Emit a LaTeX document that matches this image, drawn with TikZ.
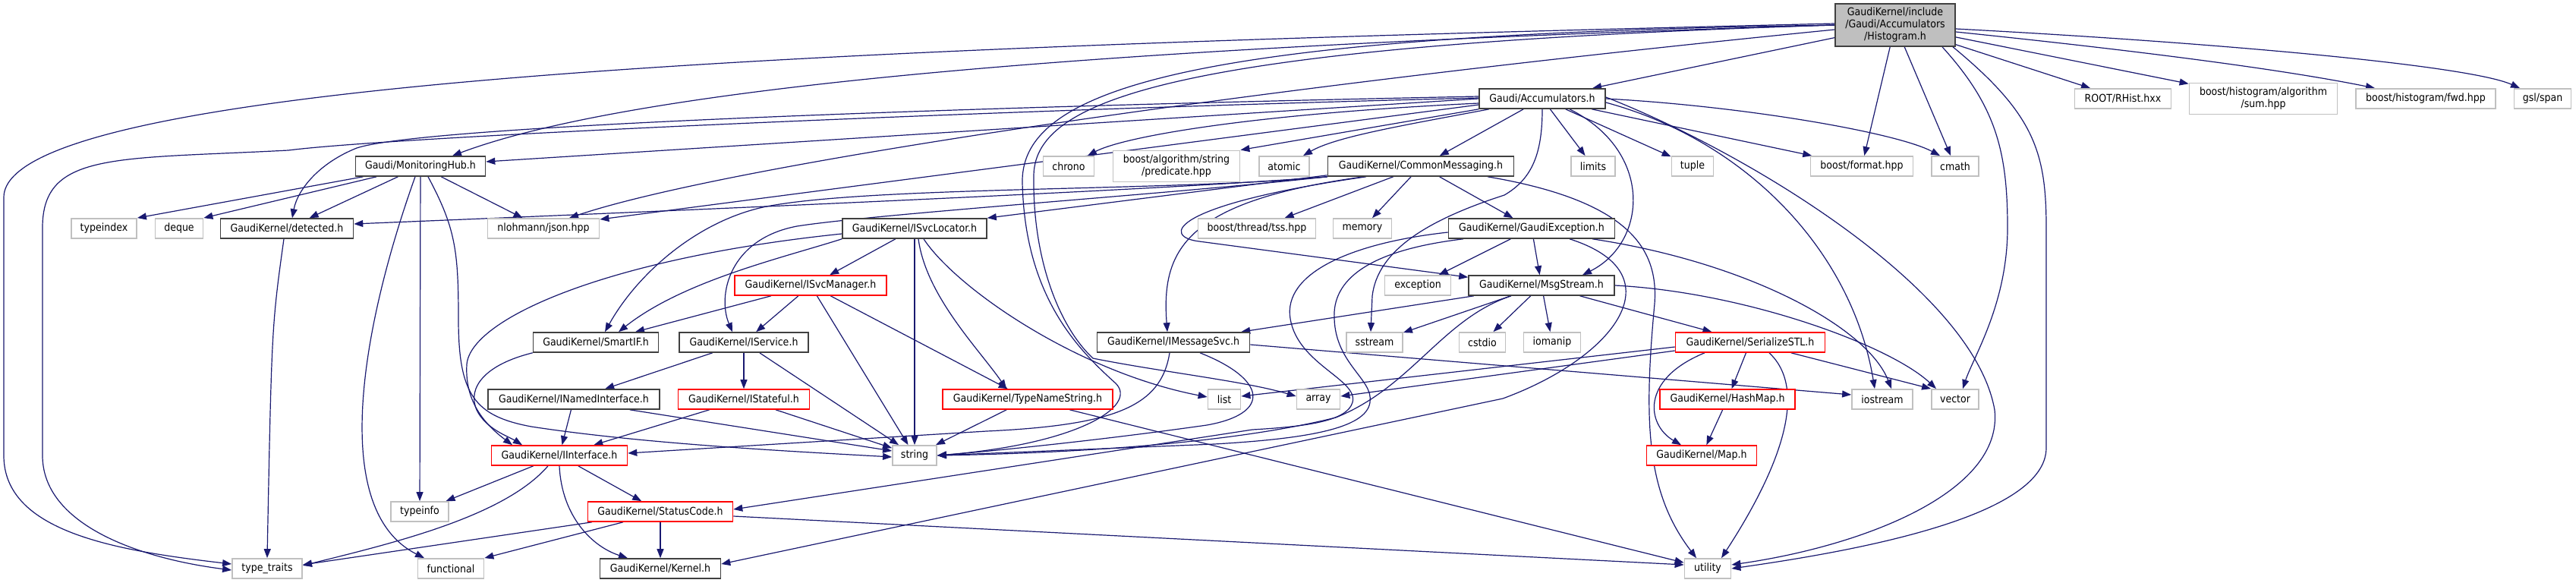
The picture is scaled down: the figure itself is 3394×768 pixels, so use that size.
\documentclass[tikz,border=0pt]{standalone}
\usepackage{fontspec}
\newfontfamily\doxfont{DejaVu Sans Condensed}
\usetikzlibrary{arrows.meta,backgrounds}
\definecolor{edgeblue}{HTML}{191970}
\definecolor{gborder}{HTML}{C0C0C0}
\definecolor{dborder}{HTML}{404040}
\definecolor{topfill}{HTML}{BFBFBF}
\begin{document}
\begin{tikzpicture}[x=1pt,y=-1pt,
  nbase/.style={rectangle, inner sep=0pt, minimum height=26pt, fill=white, font=\doxfont\fontsize{14pt}{16pt}\selectfont, align=center},
  hdr/.style={nbase, draw=dborder, line width=1.6pt},
  sys/.style={nbase, draw=gborder, line width=1.8pt},
  trunc/.style={nbase, draw=red, line width=1.6pt},
  topn/.style={nbase, draw=dborder, fill=topfill, line width=1.6pt},
  dep/.style={draw=edgeblue, line width=1.2pt, -{Triangle[length=12pt,width=9pt]}},
]
\useasboundingbox (0,0) rectangle (3394,768);
% ---------- nodes ----------
\node[topn, minimum width=158pt, minimum height=56pt] (H) at (2497,33) {GaudiKernel/include\\/Gaudi/Accumulators\\/Histogram.h};
\node[hdr, minimum width=166pt] (acc) at (2032,130) {Gaudi/Accumulators.h};
\node[sys, minimum width=127pt] (root) at (2797,130) {ROOT/RHist.hxx};
\node[sys, minimum width=195pt, minimum height=41pt] (sum) at (2982,130) {boost/histogram/algorithm\\/sum.hpp};
\node[sys, minimum width=184pt] (fwd) at (3196,130) {boost/histogram/fwd.hpp};
\node[sys, minimum width=75pt] (gsl) at (3350,130) {gsl/span};
\node[hdr, minimum width=171pt] (mh) at (554,219) {Gaudi/MonitoringHub.h};
\node[sys, minimum width=67pt] (chrono) at (1408,219) {chrono};
\node[sys, minimum width=167pt, minimum height=41pt] (pred) at (1550,219) {boost/algorithm/string\\/predicate.hpp};
\node[sys, minimum width=66pt] (atomic) at (1692,219) {atomic};
\node[hdr, minimum width=245pt] (cm) at (1872,219) {GaudiKernel/CommonMessaging.h};
\node[sys, minimum width=58pt] (limits) at (2099,219) {limits};
\node[sys, minimum width=55pt] (tuple) at (2230,219) {tuple};
\node[sys, minimum width=135pt] (format) at (2453,219) {boost/format.hpp};
\node[sys, minimum width=62pt] (cmath) at (2576,219) {cmath};
\node[sys, minimum width=86pt] (typeindex) at (137,301) {typeindex};
\node[sys, minimum width=63pt] (deque) at (236,301) {deque};
\node[hdr, minimum width=175pt] (detected) at (378,301) {GaudiKernel/detected.h};
\node[sys, minimum width=147pt] (json) at (716,301) {nlohmann/json.hpp};
\node[hdr, minimum width=190pt] (isl) at (1205,301) {GaudiKernel/ISvcLocator.h};
\node[sys, minimum width=155pt] (tss) at (1656,301) {boost/thread/tss.hpp};
\node[sys, minimum width=77pt] (memory) at (1795,301) {memory};
\node[hdr, minimum width=219pt] (ge) at (2018,301) {GaudiKernel/GaudiException.h};
\node[trunc, minimum width=200pt] (ism) at (1068,376) {GaudiKernel/ISvcManager.h};
\node[sys, minimum width=87pt] (exception) at (1868,376) {exception};
\node[hdr, minimum width=192pt] (ms) at (2031,376) {GaudiKernel/MsgStream.h};
\node[hdr, minimum width=165pt] (smartif) at (785,451) {GaudiKernel/SmartIF.h};
\node[hdr, minimum width=170pt] (isvc) at (980,451) {GaudiKernel/IService.h};
\node[hdr, minimum width=201pt] (imsg) at (1546,451) {GaudiKernel/IMessageSvc.h};
\node[sys, minimum width=74pt] (sstream) at (1811,451) {sstream};
\node[sys, minimum width=61pt] (cstdio) at (1953,451) {cstdio};
\node[sys, minimum width=75pt] (iomanip) at (2045,451) {iomanip};
\node[trunc, minimum width=197pt] (sstl) at (2306,451) {GaudiKernel/SerializeSTL.h};
\node[hdr, minimum width=226pt] (ini) at (756,526) {GaudiKernel/INamedInterface.h};
\node[trunc, minimum width=173pt] (ist) at (980,526) {GaudiKernel/IStateful.h};
\node[trunc, minimum width=224pt] (tns) at (1354,526) {GaudiKernel/TypeNameString.h};
\node[sys, minimum width=43pt] (list) at (1613,526) {list};
\node[sys, minimum width=57pt] (array) at (1737,526) {array};
\node[trunc, minimum width=178pt] (hashmap) at (2276,526) {GaudiKernel/HashMap.h};
\node[sys, minimum width=80pt] (iostream) at (2480,526) {iostream};
\node[sys, minimum width=62pt] (vector) at (2576,526) {vector};
\node[trunc, minimum width=179pt] (iint) at (737,600) {GaudiKernel/IInterface.h};
\node[sys, minimum width=58pt] (string) at (1205,600) {string};
\node[trunc, minimum width=145pt] (map) at (2242,600) {GaudiKernel/Map.h};
\node[sys, minimum width=76pt] (typeinfo) at (553,674) {typeinfo};
\node[trunc, minimum width=191pt] (sc) at (870,674) {GaudiKernel/StatusCode.h};
\node[sys, minimum width=92pt] (tt) at (352,749) {type\_traits};
\node[sys, minimum width=87pt] (functional) at (594,749) {functional};
\node[hdr, minimum width=159pt] (kernel) at (870,749) {GaudiKernel/Kernel.h};
\node[sys, minimum width=61pt] (utility) at (2250,749) {utility};
% ---------- edges ----------
\begin{scope}[on background layer]
\fill[white] (0,0) rectangle (3394,768);
% Histogram.h
\draw[dep] (H) -- (acc);
\draw[dep] (H.west) .. controls (1500,60) and (850,110) .. ([xshift=42pt]mh.north);
\draw[dep] ([yshift=2pt]H.west) .. controls (1200,60) and (5,100) .. (5,260) -- (5,600) .. controls (5,700) and (150,725) .. ([yshift=6pt]tt.west);
\draw[dep] ([yshift=-6pt]H.west) .. controls (1600,120) and (950,220) .. ([xshift=34pt]json.north);
\draw[dep] (H.west) .. controls (1550,60) and (1365,130) .. (1362,230) .. controls (1360,340) and (1395,430) .. (1440,472) .. controls (1530,490) and (1640,502) .. ([yshift=4pt]array.west);
\draw[dep] (H.west) .. controls (1600,45) and (1345,110) .. (1347,240) .. controls (1350,390) and (1420,460) .. (1470,505) .. controls (1500,535) and (1420,585) .. (string.east);
\draw[dep] (H) -- (format);
\draw[dep] (H) -- (cmath);
\draw[dep] ([xshift=62pt]H.south) .. controls (2630,140) and (2645,200) .. (2645,300) .. controls (2645,400) and (2600,470) .. ([xshift=10pt]vector.north);
\draw[dep] ([xshift=76pt]H.south) .. controls (2680,150) and (2696,200) .. (2696,300) -- (2696,590) .. controls (2696,680) and (2450,725) .. (utility.east);
\draw[dep] (H) -- (root);
\draw[dep] (H) -- (sum);
\draw[dep] ([yshift=-9pt]H.east) .. controls (2800,65) and (3000,90) .. ([xshift=-67pt]fwd.north);
\draw[dep] ([yshift=-5pt]H.east) .. controls (2900,55) and (3250,85) .. ([xshift=-30pt]gsl.north);
% Accumulators.h
\draw[dep] (acc.west) -- ([yshift=6pt]mh.east);
\draw[dep] ([yshift=3pt]acc.west) .. controls (1300,140) and (560,165) .. (470,195) .. controls (420,215) and (392,250) .. ([xshift=7pt]detected.north);
\draw[dep] ([yshift=1pt]acc.west) .. controls (1300,145) and (520,180) .. (380,198) .. controls (150,210) and (56,200) .. (56,300) -- (56,600) .. controls (56,690) and (180,735) .. ([yshift=-2pt]tt.west);
\draw[dep] ([yshift=-6pt]acc.west) .. controls (1650,150) and (1480,180) .. ([xshift=25pt]chrono.north);
\draw[dep] (acc.south west) -- (pred.north east);
\draw[dep] ([xshift=-70pt]acc.south) .. controls (1850,165) and (1760,180) .. ([xshift=25pt]atomic.north);
\draw[dep] (acc) -- (cm);
\draw[dep] (acc) -- (limits);
\draw[dep] (acc) -- (tuple);
\draw[dep] (acc) -- (format);
\draw[dep] (acc.east) .. controls (2300,140) and (2500,175) .. ([xshift=-20pt]cmath.north);
\draw[dep] ([yshift=-8pt]acc.west) -- ([yshift=12pt]json.east);
\draw[dep] ([xshift=36pt]acc.south) .. controls (2180,200) and (2170,320) .. ([xshift=54pt]ms.north);
\draw[dep] (acc.south) .. controls (2032,200) and (2020,235) .. (1982,257) .. controls (1880,290) and (1815,330) .. (1808,390) -- ([xshift=-5pt]sstream.north);
\draw[dep] ([yshift=-5pt]acc.east) .. controls (2300,185) and (2440,330) .. ([xshift=-10pt]iostream.north);
\draw[dep] ([yshift=2pt]acc.east) .. controls (2300,200) and (2600,380) .. (2628,540) .. controls (2640,650) and (2450,720) .. ([yshift=5pt]utility.east);
% MonitoringHub.h
\draw[dep] (mh) -- (typeindex.north east);
\draw[dep] (mh) -- (deque.north east);
\draw[dep] (mh) -- (detected);
\draw[dep] (mh) -- (json);
\draw[dep] (mh) -- (typeinfo);
\draw[dep] ([xshift=-7pt]mh.south) .. controls (480,420) and (430,670) .. ([xshift=-35pt]functional.north);
\draw[dep] ([xshift=10pt]mh.south) .. controls (600,300) and (604,330) .. (604,420) .. controls (604,520) and (625,548) .. (700,562) .. controls (850,585) and (1050,595) .. ([yshift=-2pt]string.west);
% detected.h
\draw[dep] ([xshift=-4pt]detected.south) .. controls (358,430) .. (tt.north);
% CommonMessaging.h
\draw[dep] (cm.south west) .. controls (1600,245) and (1200,265) .. ([yshift=6pt]detected.east);
\draw[dep] ([yshift=2pt]cm.south west) -- (isl.north east);
\draw[dep] (cm.south west) .. controls (1550,252) and (1150,245) .. (1010,272) .. controls (920,290) and (840,360) .. ([xshift=12pt]smartif.north);
\draw[dep] (cm.south west) .. controls (1550,255) and (1150,282) .. (1050,298) .. controls (960,315) and (945,390) .. ([xshift=-15pt]isvc.north);
\draw[dep] (cm) -- (tss);
\draw[dep] (cm) -- (memory);
\draw[dep] (cm) -- (ge);
\draw[dep] ([xshift=-75pt]cm.south) .. controls (1560,265) and (1530,330) .. ([xshift=-8pt]imsg.north);
\draw[dep] ([xshift=-72pt]cm.south) .. controls (1540,270) and (1530,312) .. (1580,318) -- ([yshift=-3pt]ms.north west);
\draw[dep] ([xshift=88pt]cm.south) .. controls (2150,265) and (2185,330) .. (2180,400) .. controls (2165,560) and (2170,650) .. ([xshift=-15pt]utility.north);
% ISvcLocator.h
\draw[dep] (isl) -- (ism);
\draw[dep] (isl.south west) .. controls (1030,340) and (900,370) .. ([xshift=30pt]smartif.north);
\draw[dep] ([yshift=-7pt]isl.west) .. controls (800,340) and (620,420) .. (615,480) .. controls (612,530) and (640,560) .. ([xshift=-62pt]iint.north);
\draw[dep] ([xshift=5pt]isl.south) .. controls (1220,390) and (1290,460) .. ([xshift=-28pt]tns.north);
\draw[dep] ([xshift=12pt]isl.south) .. controls (1260,380) and (1420,490) .. ([yshift=3pt]list.west);
\draw[dep] (isl) -- (string);
% ISvcManager.h
\draw[dep] (ism) -- (smartif);
\draw[dep] (ism) -- (isvc);
\draw[dep] (ism) -- (string);
\draw[dep] (ism) -- (tns);
% SmartIF.h
\draw[dep] (smartif.south west) .. controls (640,480) and (615,510) .. (628,540) .. controls (640,565) and (670,575) .. ([xshift=-49pt]iint.north);
% IService.h
\draw[dep] (isvc) -- (ini);
\draw[dep] (isvc) -- (ist);
\draw[dep] (isvc) -- (string);
% INamedInterface.h, IStateful.h, TypeNameString.h
\draw[dep] (ini) -- (iint);
\draw[dep] ([xshift=-40pt]ini.south east) -- ([yshift=6pt]string.west);
\draw[dep] (ist) -- (iint);
\draw[dep] (ist) -- (string);
\draw[dep] (tns) -- (string);
\draw[dep] (tns) -- (utility);
% IMessageSvc.h
\draw[dep] ([xshift=-5pt]imsg.south) .. controls (1530,535) and (1470,560) .. (1300,568) -- ([yshift=3pt]iint.east);
\draw[dep] ([xshift=35pt]imsg.south) .. controls (1670,500) and (1675,545) .. (1590,560) .. controls (1450,580) and (1300,595) .. (string.east);
\draw[dep] ([yshift=-3pt]imsg.east) -- ([yshift=6pt]iostream.west);
% MsgStream.h
\draw[dep] (ms) -- (imsg);
\draw[dep] (ms) -- (sstream);
\draw[dep] (ms) -- (cstdio);
\draw[dep] (ms) -- (iomanip);
\draw[dep] (ms) -- (sstl);
\draw[dep] ([xshift=-40pt]ms.south) .. controls (1900,420) and (1860,510) .. (1760,550) .. controls (1600,590) and (1350,598) .. (string.east);
\draw[dep] (ms.east) .. controls (2300,385) and (2490,455) .. ([xshift=-25pt]vector.north);
% GaudiException.h
\draw[dep] (ge) -- (exception);
\draw[dep] (ge) -- (ms);
\draw[dep] ([xshift=80pt]ge.south) .. controls (2300,345) and (2460,430) .. ([xshift=12pt]iostream.north);
\draw[dep] ([xshift=50pt]ge.south) .. controls (2210,360) and (2130,470) .. (1980,525) -- ([yshift=6pt]kernel.east);
\draw[dep] ([yshift=-5pt]ge.west) .. controls (1780,320) and (1690,360) .. (1700,420) .. controls (1710,480) and (1790,500) .. (1782,530) .. controls (1775,555) and (1720,562) .. (1650,566) -- ([yshift=3pt]sc.east);
\draw[dep] ([xshift=-90pt]ge.south) .. controls (1800,330) and (1755,370) .. (1758,420) .. controls (1760,480) and (1810,500) .. (1805,530) .. controls (1800,565) and (1720,578) .. (1600,585) -- (string.east);
% SerializeSTL.h, HashMap.h
\draw[dep] ([yshift=-6pt]sstl.west) -- ([yshift=4pt]list.east);
\draw[dep] ([yshift=-11pt]sstl.west) -- ([yshift=4pt]array.east);
\draw[dep] (sstl) -- (hashmap);
\draw[dep] ([xshift=-60pt]sstl.south) .. controls (2160,500) and (2170,560) .. ([xshift=-27pt]map.north);
\draw[dep] ([xshift=25pt]sstl.south) .. controls (2390,520) and (2330,640) .. ([xshift=18pt]utility.north);
\draw[dep] (sstl) -- (vector.north west);
\draw[dep] (hashmap) -- (map);
% IInterface.h
\draw[dep] (iint) -- (typeinfo);
\draw[dep] ([xshift=-15pt]iint.south) .. controls (665,680) and (520,715) .. ([yshift=4pt]tt.east);
\draw[dep] (iint) -- (sc);
\draw[dep] (iint.south) .. controls (740,680) and (780,720) .. ([xshift=-43pt]kernel.north);
% StatusCode.h
\draw[dep] ([xshift=-90pt]sc.south) -- ([yshift=5pt]tt.east);
\draw[dep] ([xshift=-49pt]sc.south) -- (functional.north east);
\draw[dep] (sc) -- (kernel);
\draw[dep] ([yshift=-6pt]sc.east) -- ([yshift=5pt]utility.west);
\end{scope}
\end{tikzpicture}
\end{document}
